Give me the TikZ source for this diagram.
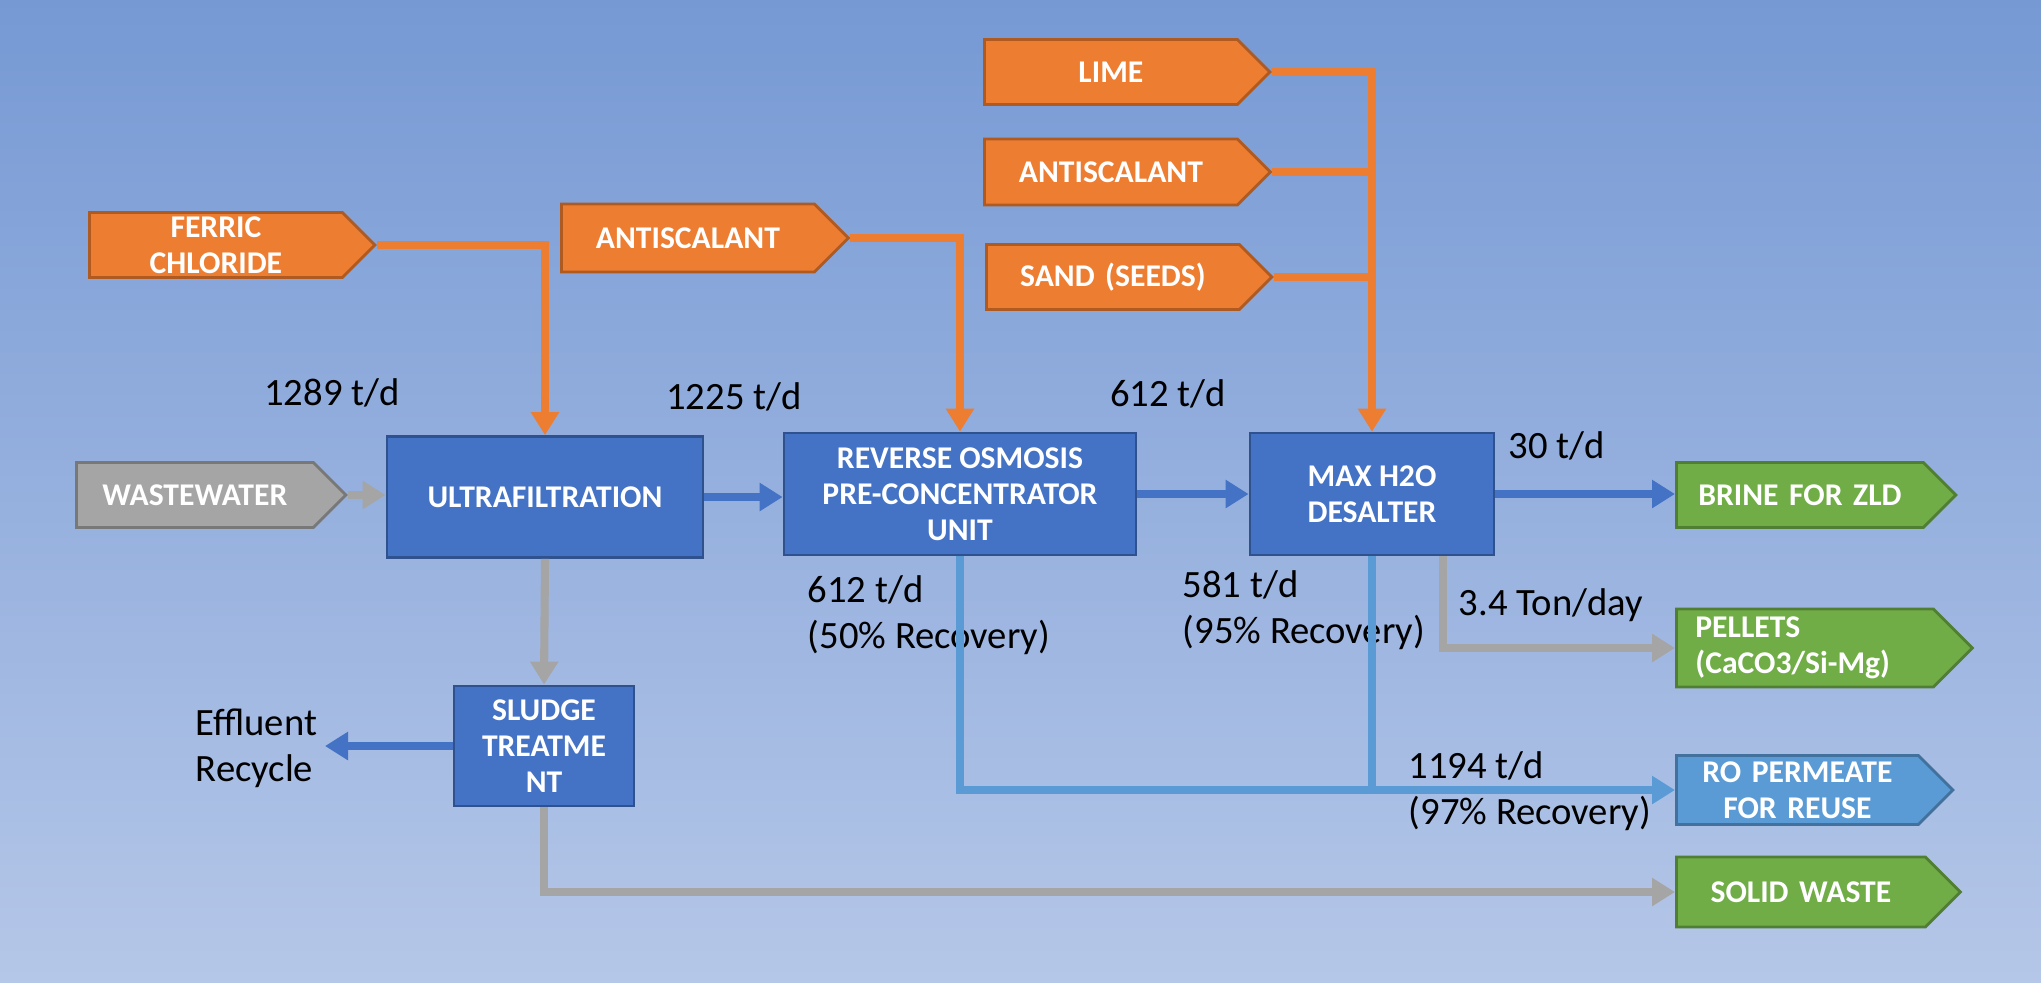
\documentclass[tikz,border=0pt]{standalone}
\usepackage{fontspec}
\setmainfont{Carlito}
\usetikzlibrary{
  arrows.meta, positioning, shapes.symbols, calc
}
\usepackage{xcolor}
\definecolor{CO}{RGB}{237,125,49}
\definecolor{DO}{RGB}{174,90,33}
\definecolor{CB}{RGB}{68,114,196}
\definecolor{DB}{RGB}{47,82,143}
\definecolor{LB}{RGB}{91,155,213}
\definecolor{DLB}{RGB}{65,113,156}
\definecolor{CG}{RGB}{112,173,71}
\definecolor{DGn}{RGB}{80,126,50}
\definecolor{CGr}{RGB}{165,165,165}
\definecolor{DGr}{RGB}{120,120,120}
\definecolor{BGT}{RGB}{118,153,212}
\definecolor{BGB}{RGB}{181,199,232}

\begin{document}
\begin{tikzpicture}[x=0.1mm, y=-0.1mm,
  tag/.style={signal, signal to=east, signal from=nowhere,
    signal pointer angle=90, line width=0.8pt, inner xsep=0pt,
    inner ysep=0pt, align=center, text width=25.3mm, text=white,
    font=\fontsize{9}{10.2}\selectfont\bfseries, anchor=west},
  chem/.style={tag, fill=CO, draw=DO},
  prod/.style={tag, fill=CG, draw=DGn},
  unit/.style={rectangle, fill=CB, draw=DB, line width=0.8pt,
    align=center, text=white, font=\fontsize{9}{10.2}\selectfont\bfseries},
  rate/.style={font=\fontsize{11}{13}\selectfont, align=left, inner sep=0pt},
  tip/.style={-{Triangle[length=2.3mm, width=2.7mm]}},
  feedline/.style={tip, draw=CO, line width=2.3pt},
  mainline/.style={tip, draw=CB, line width=2.5pt},
  greyline/.style={tip, draw=CGr, line width=2.3pt},
  permline/.style={tip, draw=LB, line width=2.3pt}
]
% Background
\shade[top color=BGT, bottom color=BGB] (0,0) rectangle (2041,982);
\useasboundingbox (0,0) rectangle (2041,982);

% Feed chemicals
\node[chem, minimum height=6.5mm] (ferric) at (88,245) {FERRIC\\CHLORIDE};
\node[chem, minimum height=6.8mm] (anti1) at (560,238) {ANTISCALANT};
\node[chem, minimum height=6.5mm] (lime) at (983,72) {LIME};
\node[chem, minimum height=6.6mm] (anti2) at (983,172) {ANTISCALANT};
\node[chem, minimum height=6.5mm] (sand) at (985,277) {SAND (SEEDS)};

% Inlet and process units
\node[tag, fill=CGr, draw=DGr, text width=23.7mm, minimum height=6.5mm] (waste) at (75,495) {WASTEWATER};
\node[unit, minimum width=31.6mm, minimum height=12.1mm] (uf) at (545,497) {ULTRAFILTRATION};
\node[unit, minimum width=35.2mm, minimum height=12.2mm] (ro) at (960,494) {REVERSE OSMOSIS\\PRE-CONCENTRATOR\\UNIT};
\node[unit, minimum width=24.4mm, minimum height=12.2mm] (desalter) at (1372,494) {MAX H2O\\DESALTER};
\node[unit, minimum width=18mm, minimum height=12mm] (sludge) at (544,746) {SLUDGE\\TREATME\\NT};

% Outlets
\node[prod, text width=24.7mm, minimum height=6.5mm] (brine) at (1675,495) {BRINE FOR ZLD};
\node[prod, text width=21.9mm, inner xsep=1.9mm, align=left, minimum height=7.8mm] (pellets) at (1675,648) {PELLETS\\(CaCO3/Si-Mg)};
\node[tag, fill=LB, draw=DLB, text width=24.2mm, minimum height=6.9mm] (permeate) at (1675,790) {RO PERMEATE\\FOR REUSE};
\node[prod, text width=24.9mm, minimum height=7mm] (solid) at (1675,892) {SOLID WASTE};
\coordinate (eff) at (325,746);
\coordinate (pelout) at ($(desalter.south east)+(-52,0)$);

% Flow labels
\node[rate] (r1289) at (332,393) {1289 t/d};
\node[rate] (r1225) at (734,397) {1225 t/d};
\node[rate] (r612) at (1168,394) {612 t/d};
\node[rate] (r30) at (1557,446) {30 t/d};
\node[rate, anchor=west] (rro) at (807,615) {612 t/d\\(50\% Recovery)};
\node[rate, anchor=west] (rdes) at (1182,610) {581 t/d\\(95\% Recovery)};
\node[rate, anchor=west] (rpel) at (1458,605) {3.4 Ton/day};
\node[rate, anchor=west] (rperm) at (1408,791) {1194 t/d\\(97\% Recovery)};
\node[rate, anchor=west] (reff) at (195,748) {Effluent\\Recycle};

% Dosing lines
\draw[feedline] (ferric.east) -| (uf.north);
\draw[feedline] (anti1.east) -| (ro.north);
\draw[feedline] (lime.east) -| (desalter.north);
\draw[feedline, -] (anti2.east) -- (anti2.east -| desalter.north);
\draw[feedline, -] (sand.east) -- (sand.east -| desalter.north);

% Process streams
\draw[greyline] (waste.east) -- (waste.east -| uf.west);
\draw[mainline] (uf.east) -- (uf.east -| ro.west);
\draw[mainline] (ro.east) -- (ro.east -| desalter.west);
\draw[mainline] (desalter.east) -- (desalter.east -| brine.west);
\draw[greyline] (uf.south) -- (sludge.north);
\draw[mainline] (sludge.west) -- (eff);
\draw[greyline] (sludge.south) |- (solid.west);
\draw[permline] (ro.south) |- (permeate.west);
\draw[permline, -] (desalter.south) -- (desalter.south |- permeate.west);
\draw[greyline] (pelout) |- (pellets.west);
\end{tikzpicture}
\end{document}
